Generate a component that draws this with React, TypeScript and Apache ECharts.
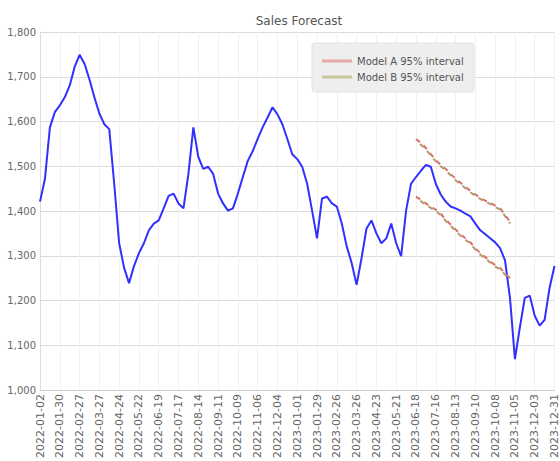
import React, { useEffect, useRef } from "react";
import * as echarts from "echarts";

const chartTitle = "Sales Forecast";

const weeks = [
  "2022-01-02","2022-01-09","2022-01-16","2022-01-23","2022-01-30",
  "2022-02-06","2022-02-13","2022-02-20","2022-02-27",
  "2022-03-06","2022-03-13","2022-03-20","2022-03-27",
  "2022-04-03","2022-04-10","2022-04-17","2022-04-24",
  "2022-05-01","2022-05-08","2022-05-15","2022-05-22","2022-05-29",
  "2022-06-05","2022-06-12","2022-06-19","2022-06-26",
  "2022-07-03","2022-07-10","2022-07-17","2022-07-24","2022-07-31",
  "2022-08-07","2022-08-14","2022-08-21","2022-08-28",
  "2022-09-04","2022-09-11","2022-09-18","2022-09-25",
  "2022-10-02","2022-10-09","2022-10-16","2022-10-23","2022-10-30",
  "2022-11-06","2022-11-13","2022-11-20","2022-11-27",
  "2022-12-04","2022-12-11","2022-12-18","2022-12-25",
  "2023-01-01","2023-01-08","2023-01-15","2023-01-22","2023-01-29",
  "2023-02-05","2023-02-12","2023-02-19","2023-02-26",
  "2023-03-05","2023-03-12","2023-03-19","2023-03-26",
  "2023-04-02","2023-04-09","2023-04-16","2023-04-23","2023-04-30",
  "2023-05-07","2023-05-14","2023-05-21","2023-05-28",
  "2023-06-04","2023-06-11","2023-06-18","2023-06-25",
  "2023-07-02","2023-07-09","2023-07-16","2023-07-23","2023-07-30",
  "2023-08-06","2023-08-13","2023-08-20","2023-08-27",
  "2023-09-03","2023-09-10","2023-09-17","2023-09-24",
  "2023-10-01","2023-10-08","2023-10-15","2023-10-22","2023-10-29",
  "2023-11-05","2023-11-12","2023-11-19","2023-11-26",
  "2023-12-03","2023-12-10","2023-12-17","2023-12-24","2023-12-31",
];

const actualSales = [
  1421, 1472, 1587, 1621, 1636, 1654, 1680, 1722, 1749, 1729,
  1694, 1654, 1618, 1594, 1583, 1461, 1328, 1273, 1239, 1277,
  1306, 1328, 1357, 1372, 1379, 1406, 1434, 1439, 1417, 1406,
  1483, 1587, 1521, 1494, 1499, 1483, 1439, 1417, 1401, 1406,
  1439, 1476, 1512, 1534, 1561, 1587, 1609, 1632, 1616, 1594,
  1561, 1527, 1516, 1499, 1461, 1401, 1339, 1428, 1432, 1417,
  1410, 1372, 1321, 1284, 1235, 1295, 1361, 1379, 1350, 1328,
  1339, 1372, 1328, 1299, 1401, 1461, 1476, 1490, 1503, 1499,
  1461, 1437, 1421, 1410, 1406, 1401, 1394, 1388, 1372, 1357,
  1348, 1339, 1330, 1317, 1290, 1206, 1069, 1140, 1206, 1211,
  1166, 1144, 1157, 1228, 1277,
];

const forecastWeeks = [
  "2023-06-18","2023-06-25","2023-07-02","2023-07-09","2023-07-16",
  "2023-07-23","2023-07-30","2023-08-06","2023-08-13","2023-08-20",
  "2023-08-27","2023-09-03","2023-09-10","2023-09-17","2023-09-24",
  "2023-10-01","2023-10-08","2023-10-15","2023-10-22","2023-10-29",
];

const modelAUpper = [1561, 1552, 1541, 1527, 1514, 1503, 1494, 1483, 1472, 1463, 1454, 1445, 1437, 1430, 1423, 1419, 1412, 1406, 1392, 1375];
const modelALower = [1432, 1425, 1417, 1410, 1403, 1394, 1381, 1370, 1359, 1348, 1339, 1330, 1317, 1306, 1297, 1288, 1279, 1273, 1261, 1250];
const modelBUpper = [1557, 1548, 1538, 1524, 1511, 1500, 1491, 1480, 1469, 1460, 1451, 1442, 1434, 1427, 1420, 1416, 1409, 1403, 1389, 1372];
const modelBLower = [1429, 1422, 1414, 1407, 1400, 1391, 1378, 1367, 1356, 1345, 1336, 1327, 1314, 1303, 1294, 1285, 1276, 1270, 1258, 1247];

const legendNames = ["Model A 95% interval", "Model B 95% interval"];
const yMin = 1000;
const yMax = 1800;
const yStep = 100;

const pairs = (xs: string[], ys: number[]) => xs.map((x, i) => [x, ys[i]]);

export default function App() {
  const ref = useRef<HTMLDivElement>(null);
  useEffect(() => {
    if (!ref.current) return;
    document.body.style.margin = "0";
    const chart = echarts.init(ref.current, undefined, { renderer: "svg" });
    const red = "#dc6e6e";
    const olive = "#b09c64";
    const bandSeries = (name: string, values: number[], color: string, offset: number) => ({
      name,
      type: "line",
      data: pairs(forecastWeeks, values),
      symbol: "none",
      showSymbol: false,
      itemStyle: { color },
      lineStyle: { color, width: 2, type: [5, 5], dashOffset: offset },
      z: 3,
    });
    chart.setOption({
      animation: false,
      backgroundColor: "#ffffff",
      title: {
        text: chartTitle,
        left: 294,
        top: 10,
        textAlign: "center",
        textStyle: { fontSize: 12, fontWeight: "normal", color: "#555", fontFamily: "DejaVu Sans" },
      },
      legend: {
        data: legendNames.map((name, i) => ({
          name,
          icon: "rect",
          itemStyle: { color: i === 0 ? "#e6a8a8" : "#c8c49c" },
        })),
        orient: "vertical",
        left: 312,
        top: 43,
        padding: [12, 10, 9, 10],
        itemGap: 4,
        itemWidth: 30,
        itemHeight: 3,
        backgroundColor: "#eeeeee",
        borderColor: "#e2e2e2",
        borderWidth: 1,
        borderRadius: 3,
        textStyle: { fontSize: 10, color: "#555", fontFamily: "DejaVu Sans", lineHeight: 12 },
      },
      grid: { left: 40, right: 5, top: 32, bottom: 68, containLabel: false },
      xAxis: {
        type: "category",
        data: weeks,
        boundaryGap: false,
        axisLine: { show: true, lineStyle: { color: "#cccccc" } },
        axisTick: { show: false },
        axisLabel: {
          interval: 3,
          rotate: 90,
          fontSize: 11,
          color: "#666",
          margin: 4,
          fontFamily: "DejaVu Sans",
        },
        splitLine: { show: true, interval: 3, lineStyle: { color: "#f0f0f0" } },
      },
      yAxis: {
        type: "value",
        min: yMin,
        max: yMax,
        interval: yStep,
        axisLine: { show: true, lineStyle: { color: "#dddddd" } },
        axisTick: { show: false },
        axisLabel: { fontSize: 10, color: "#666", margin: 4, fontFamily: "DejaVu Sans" },
        splitLine: { show: true, lineStyle: { color: "#dcdcdc" } },
      },
      series: [
        {
          name: "Actual",
          type: "line",
          data: actualSales,
          symbol: "none",
          showSymbol: false,
          itemStyle: { color: "#3030ff" },
          lineStyle: { color: "#3030ff", width: 2 },
          z: 2,
        },
        bandSeries(legendNames[0], modelAUpper, red, 0),
        bandSeries(legendNames[0], modelALower, red, 0),
        bandSeries(legendNames[1], modelBUpper, olive, 5),
        bandSeries(legendNames[1], modelBLower, olive, 5),
      ],
    });
    return () => chart.dispose();
  }, []);
  return <div ref={ref} style={{ width: 560, height: 461 }} />;
}
